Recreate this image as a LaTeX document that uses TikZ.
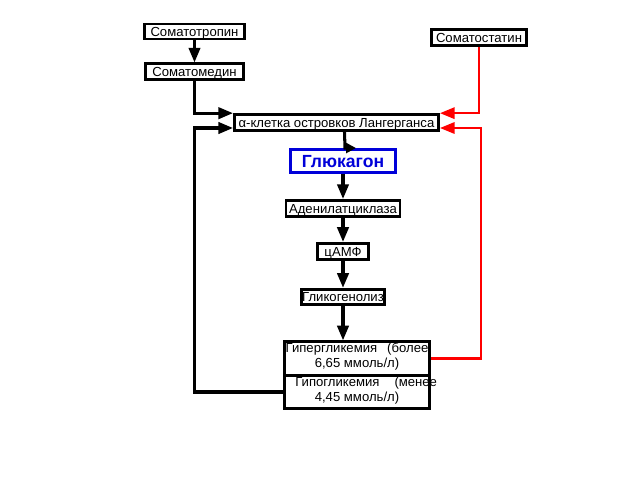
\documentclass[tikz,border=0pt]{standalone}
\usepackage{fontspec}
\setmainfont{Liberation Sans}
\usetikzlibrary{arrows.meta, positioning}

\begin{document}
\begin{tikzpicture}[x=0.03cm,y=-0.03cm,->,>={Triangle[length=4.4mm,width=3.4mm]},line width=2.6pt]
				\tikzstyle{block} = [draw=black, fill=white, line width=2.5pt, inner sep=0pt, minimum height=0.45cm, font=\fontsize{11.2}{13}\selectfont, text height=8pt, text depth=0pt]
				\tikzstyle{twoline} = [block, minimum width=4.35cm, minimum height=1.0cm, align=center, font=\fontsize{11.2}{12.5}\selectfont, text height=20.5pt, text depth=5pt]
				\tikzstyle{redline} = [red, line width=1.9pt]

				\useasboundingbox (0,0) rectangle (640,480);

				\node[block, minimum width=3.0cm] (sotrop) at (194.5,31.5) {Соматотропин};
				\node[block, minimum width=2.94cm, minimum height=0.48cm] (somed) [below=0.66cm of sotrop] {Соматомедин};
				\node[block, minimum width=2.85cm, minimum height=0.48cm] (somst) at (479,37.5) {Соматостатин};
				\node[block, minimum width=6.12cm, minimum height=0.48cm] (alpha) at (336.5,122.5) {α-клетка островков Лангерганса};
				\node[block, draw=blue!85!black, text=blue!85!black, minimum width=3.15cm, minimum height=0.69cm, font=\fontsize{15}{17}\selectfont\bfseries, text height=10.7pt] (gluc) at (343,161) {Глюкагон};
				\node[block, minimum width=3.42cm, minimum height=0.48cm] (aden) [below=0.75cm of gluc] {Аденилатциклаза};
				\node[block, minimum width=1.53cm, minimum height=0.48cm] (camp) [below=0.72cm of aden] {цАМФ};
				\node[block, minimum width=2.49cm] (glyco) [below=0.81cm of camp] {Гликогенолиз};
				\node[twoline] (hyper) at (357,358.5) {\makebox[4.35cm]{\makebox[4.28cm][s]{Гипергликемия (более}}\\6,65 ммоль/л)};
				\node[twoline] (hypo) at (357,392) {\makebox[4.35cm]{\hspace{0.55cm}\makebox[4.25cm][s]{Гипогликемия (менее}}\\4,45 ммоль/л)};

				% входы в альфа-клетку
				\draw (sotrop) -- (somed);
				\draw (somed.south) |- ([yshift=0.28cm]alpha.west);
				\draw (hypo.west) -- ++(-89,0) |- ([yshift=-0.165cm]alpha.west);
				\draw[redline] (somst.south) |- ([yshift=0.28cm]alpha.east);
				\draw[redline] (hyper.east) -- ++(50,0) |- ([yshift=-0.165cm]alpha.east);

				% каскад
				\draw[-{Triangle[length=3mm,width=3mm]}] ([xshift=0.24cm]alpha.south) -- ([xshift=0.06cm]gluc.north) -- ++(11,0);
				\draw (gluc) -- (aden);
				\draw (aden) -- (camp);
				\draw (camp) -- (glyco);
				\draw (glyco.south) -- (glyco.south |- hyper.north);
\end{tikzpicture}
\end{document}
